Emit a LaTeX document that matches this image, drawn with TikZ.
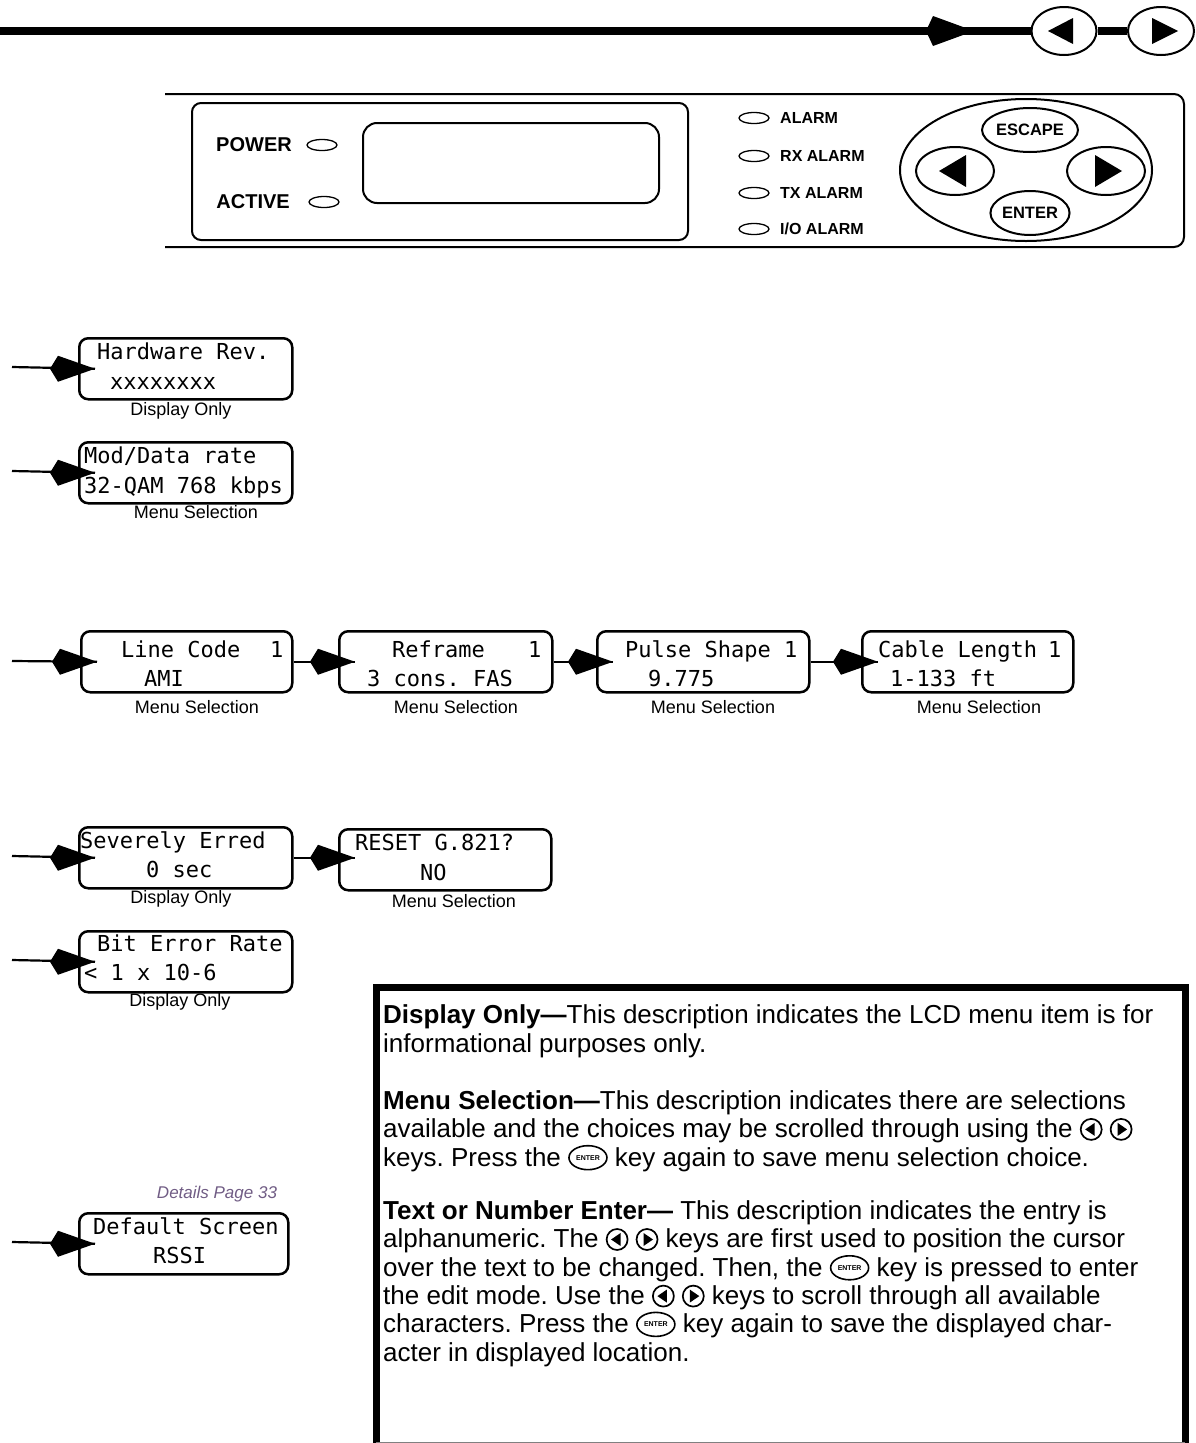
\documentclass[tikz,border=0pt]{standalone}
\usepackage{fontspec}
\setmainfont{Liberation Sans}
\newfontfamily\lcdfont{DejaVu Sans Mono}
\usetikzlibrary{shapes.geometric}
\definecolor{detailcol}{RGB}{112,92,132}
\frenchspacing
\newcommand\lkey{\tikz[baseline=-0.32em]{\draw[line width=1.7pt] (0pt,0pt) circle (10.5pt); \fill (-6pt,0pt) -- (3.5pt,6.5pt) -- (3.5pt,-6.5pt) -- cycle;}}
\newcommand\rkey{\tikz[baseline=-0.32em]{\draw[line width=1.7pt] (0pt,0pt) circle (10.5pt); \fill (6pt,0pt) -- (-3.5pt,6.5pt) -- (-3.5pt,-6.5pt) -- cycle;}}
\newcommand\entkey{\tikz[baseline=-0.32em]{\node[draw,ellipse,line width=1.6pt,inner sep=0pt,minimum width=38pt,minimum height=24pt,font=\bfseries\fontsize{7}{7}\selectfont,anchor=center] (ek) at (0pt,0pt) {ENTER};}}
\begin{document}
\frenchspacing
\begin{tikzpicture}[x=1pt,y=-1pt,
  lcd/.style={draw, line width=2.5pt, rounded corners=9pt, minimum width=213pt, minimum height=61pt, anchor=north west, inner sep=0pt},
  lcdtxt/.style={anchor=base west, inner sep=0pt, font=\lcdfont\fontsize{22}{22}\selectfont},
  caption/.style={font=\fontsize{18}{18}\selectfont, inner sep=0pt},
  flow/.style={line width=2.2pt},
  led/.style={draw, ellipse, line width=1.3pt, minimum width=30pt, minimum height=11pt, inner sep=0pt},
  key/.style={draw, ellipse, line width=2pt, inner sep=0pt},
  paneltxt/.style={font=\bfseries\fontsize{20}{20}\selectfont, inner sep=0pt},
  alarmtxt/.style={font=\bfseries\fontsize{16}{16}\selectfont, inner sep=0pt, anchor=west},
  keytxt/.style={key, font=\bfseries\fontsize{16.5}{16.5}\selectfont},
  legendtxt/.style={anchor=base west, align=left, inner sep=0pt, font=\frenchspacing\fontsize{26}{28.3}\selectfont},
  kitehead/.pic={\fill (0,0) -- (-37,-13) -- (-45,0) -- (-37,13) -- cycle;}
]
\useasboundingbox (0,0) rectangle (1196,1443);

% ---------- top bar ----------
\node[key, minimum width=65pt, minimum height=48pt] (tl) at (1064,31) {};
\node[key, minimum width=66pt, minimum height=48pt] (tr) at (1161,31) {};
\coordinate (topstart) at (0,31);
\draw[line width=8pt] (topstart) -- (tl.west);
\draw[line width=8pt] (tl.east) -- (tr.west);
\fill (974,31) -- ++(-41,-15) -- ++(-7,15) -- ++(7,15) -- cycle;
\fill (1048,31) -- (1073,18) -- (1073,44) -- cycle;
\fill (1178,31) -- (1152,18) -- (1152,44) -- cycle;

% ---------- front panel ----------
\draw[line width=2pt, rounded corners=10pt] (165,94) -- (1184,94) -- (1184,247) -- (165,247);
\draw[line width=2pt, rounded corners=9pt] (192,103) rectangle (688,240);
\draw[line width=2pt, rounded corners=14pt] (363,123) rectangle (659,203);
\node[paneltxt, anchor=east] (power) at (292,145) {POWER};
\node[led] (powerled) at (322,145) {};
\node[paneltxt, anchor=east] (active) at (290,202) {ACTIVE};
\node[led] (activeled) at (324,202) {};
\node[led] (led1) at (754,118) {};
\node[led] (led2) at (754,156) {};
\node[led] (led3) at (754,193) {};
\node[led] (led4) at (754,229) {};
\node[alarmtxt] (al1) at (780,118) {ALARM};
\node[alarmtxt] (al2) at (780,156) {RX ALARM};
\node[alarmtxt] (al3) at (780,193) {TX ALARM};
\node[alarmtxt] (al4) at (780,229) {I/O ALARM};
\node[key, minimum width=252pt, minimum height=142pt] (pad) at (1026,170) {};
\node[keytxt, minimum width=78pt, minimum height=44pt] (esc) at (1030,130) {ESCAPE};
\node[keytxt, minimum width=76pt, minimum height=44pt] (ent) at (1030,213) {ENTER};
\node[key, minimum width=78pt, minimum height=48pt] (kl) at (955,171) {};
\node[key, minimum width=78pt, minimum height=48pt] (kr) at (1106,171) {};
\fill (939,171) -- (966,155) -- (966,187) -- cycle;
\fill (1122,171) -- (1095,155) -- (1095,187) -- cycle;

% ---------- LCD boxes ----------
\node[lcd] (hw) at (78,337) {};
\node[lcdtxt] (hw1) at (97,359) {Hardware Rev.};
\node[lcdtxt] (hw2) at (110,389) {xxxxxxxx};
\node[caption] (hwc) at (181,411) {Display Only};

\node[lcd] (md) at (78,441) {};
\node[lcdtxt] (md1) at (84,463) {Mod/Data rate};
\node[lcdtxt] (md2) at (84,493) {32-QAM 768 kbps};
\node[caption] (mdc) at (196,512) {Menu Selection};

\node[lcd, minimum width=211pt] (lc) at (80,630) {};
\node[lcdtxt] (lc1) at (121,657) {Line Code};
\node[lcdtxt] (lc1n) at (270,657) {1};
\node[lcdtxt] (lc2) at (144,686) {AMI};
\node[caption] (lcc) at (197,707) {Menu Selection};

\node[lcd] (rf) at (338,630) {};
\node[lcdtxt] (rf1) at (392,657) {Reframe};
\node[lcdtxt] (rf1n) at (528,657) {1};
\node[lcdtxt] (rf2) at (367,686) {3 cons. FAS};
\node[caption] (rfc) at (456,707) {Menu Selection};

\node[lcd, minimum width=212pt] (ps) at (596,630) {};
\node[lcdtxt] (ps1) at (625,657) {Pulse Shape};
\node[lcdtxt] (ps1n) at (784,657) {1};
\node[lcdtxt] (ps2) at (648,686) {9.775};
\node[caption] (psc) at (713,707) {Menu Selection};

\node[lcd, minimum width=211pt] (cl) at (861,630) {};
\node[lcdtxt] (cl1) at (878,657) {Cable Length};
\node[lcdtxt] (cl1n) at (1048,657) {1};
\node[lcdtxt] (cl2) at (890,686) {1-133 ft};
\node[caption] (clc) at (979,707) {Menu Selection};

\node[lcd] (se) at (78,826) {};
\node[lcdtxt] (se1) at (80,848) {Severely Erred};
\node[lcdtxt] (se2) at (146,877) {0 sec};
\node[caption] (sec) at (181,899) {Display Only};

\node[lcd, minimum width=212pt] (rs) at (338,828) {};
\node[lcdtxt] (rs1) at (355,850) {RESET G.821?};
\node[lcdtxt] (rs2) at (420,880) {NO};
\node[caption] (rsc) at (454,901) {Menu Selection};

\node[lcd] (be) at (78,930) {};
\node[lcdtxt] (be1) at (97,951) {Bit Error Rate};
\node[lcdtxt] (be2) at (84,980) {< 1 x 10-6};
\node[caption] (bec) at (180,1002) {Display Only};

\node[font=\itshape\fontsize{17}{17}\selectfont, text=detailcol, inner sep=0pt] (det) at (217,1194) {Details Page 33};
\node[lcd, minimum width=209pt] (ds) at (78,1212) {};
\node[lcdtxt] (ds1) at (93,1234) {Default Screen};
\node[lcdtxt] (ds2) at (153,1263) {RSSI};

% ---------- connectors ----------
\coordinate (s1) at (12,367);
\coordinate (s2) at (12,471);
\coordinate (s3) at (12,661);
\coordinate (s4) at (12,856);
\coordinate (s5) at (12,960);
\coordinate (s6) at (12,1242);
\draw[flow] (s1) -- ([xshift=17pt]hw.west) pic {kitehead};
\draw[flow] (s2) -- ([xshift=17pt]md.west) pic {kitehead};
\draw[flow] (s3) -- ([xshift=17pt]lc.west) pic {kitehead};
\draw[flow] (lc.east) -- ([xshift=17pt]rf.west) pic {kitehead};
\draw[flow] (rf.east) -- ([xshift=17pt]ps.west) pic {kitehead};
\draw[flow] (ps.east) -- ([xshift=17pt]cl.west) pic {kitehead};
\draw[flow] (s4) -- ([xshift=17pt]se.west) pic {kitehead};
\draw[flow] (se.east) -- ([xshift=17pt]rs.west |- se.east) pic {kitehead};
\draw[flow] (s5) -- ([xshift=17pt]be.west) pic {kitehead};
\draw[flow] (s6) -- ([xshift=17pt]ds.west) pic {kitehead};

% ---------- legend ----------
\draw[line width=7pt] (376,1449) -- (376,987) -- (1185,987) -- (1185,1449);
\draw[line width=1pt, gray] (376,1442.5) -- (1185,1442.5);
\node[legendtxt] (p1) at (383,1052) {\textbf{Display Only—}This description indicates the LCD menu item is for\\informational purposes only.};
\node[legendtxt] (p2) at (383,1166) {\textbf{Menu Selection—}This description indicates there are selections\\available and the choices may be scrolled through using the \lkey\ \rkey\\keys. Press the \entkey\ key again to save menu selection choice.};
\node[legendtxt] (p3) at (383,1361) {\textbf{Text or Number Enter—} This description indicates the entry is\\alphanumeric. The \lkey\ \rkey\ keys are first used to position the cursor\\over the text to be changed. Then, the \entkey\ key is pressed to enter\\the edit mode. Use the \lkey\ \rkey\ keys to scroll through all available\\characters. Press the \entkey\ key again to save the displayed char-\\acter in displayed location.};
\end{tikzpicture}
\end{document}
